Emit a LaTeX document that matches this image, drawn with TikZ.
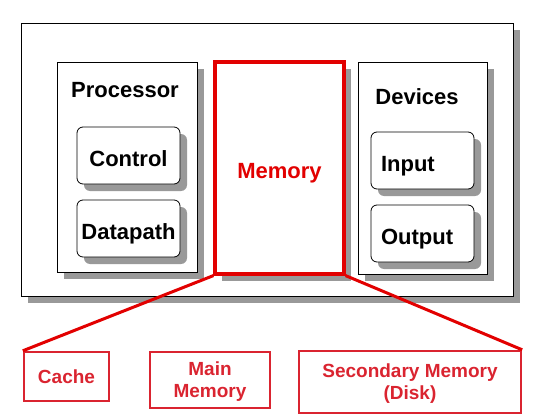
\documentclass[tikz,border=0pt]{standalone}
\usepackage{fontspec}
\setmainfont{Liberation Sans}
\usetikzlibrary{positioning,shapes,shadows}

\definecolor{memred}{RGB}{226,0,0}
\definecolor{partred}{RGB}{218,36,48}

\begin{document}
\begin{tikzpicture}[x=1pt, y=-1pt,
        boxshadow/.style={drop shadow={shadow xshift=7pt, shadow yshift=-7pt, fill=black!40, opacity=1}},
        plainbox/.style={rectangle, draw, fill=white, line width=0.8pt, boxshadow},
        unitbox/.style={rectangle, rounded corners=6pt, draw, fill=white, line width=0.8pt, boxshadow, minimum width=103pt, minimum height=57pt, text height=22pt, text depth=0pt},
        bigtext/.style={font=\fontsize{22}{24}\selectfont\bfseries},
        parttext/.style={font=\fontsize{19}{22}\selectfont\bfseries, text=partred, align=center},
        partbox/.style={rectangle, draw=partred, line width=2.4pt, parttext}]
        \useasboundingbox (0, 0) rectangle (552, 420);

        % the whole computer
        \node[plainbox, minimum width=492pt, minimum height=273pt] (comp) at (267, 159.5) {};

        \node[plainbox, minimum width=140pt, minimum height=210pt] (proc) at (127, 167) {};
        \node[bigtext] (proclbl) at (125, 90) {Processor};
        \node[unitbox, bigtext] (ctrl) at (128.5, 155.5) {Control};
        \node[unitbox, bigtext] (dpath) at (128.5, 228.5) {Datapath};

        \node[plainbox, draw=memred, line width=3.2pt, minimum width=129pt, minimum height=212pt, bigtext, text=memred, text height=20pt, text depth=0pt] (mem) at (279.5, 168) {Memory};

        \node[plainbox, minimum width=129pt, minimum height=212pt] (dev) at (422.5, 168) {};
        \node[bigtext] (devlbl) at (417, 97) {Devices};
        \node[unitbox, bigtext, text width=83pt, align=left] (inp) at (422.5, 160.5) {Input};
        \node[unitbox, bigtext, text width=83pt, align=left] (outp) at (422.5, 233.5) {Output};

        % levels of memory
        \node[partbox, minimum width=85pt, minimum height=49pt] (cache) at (66.5, 376.5) {Cache};
        \node[partbox, minimum width=120pt, minimum height=56pt, text depth=-3pt] (mainmem) at (210, 380) {Main\\Memory};
        \node[partbox, minimum width=222pt, minimum height=62pt, text depth=-3pt] (disk) at (410, 382) {Secondary Memory\\(Disk)};

        \draw[memred, line width=3pt] (mem.south west) -- (cache.north west);
        \draw[memred, line width=3pt] (mem.south east) -- (disk.north east);
    \end{tikzpicture}
\end{document}
